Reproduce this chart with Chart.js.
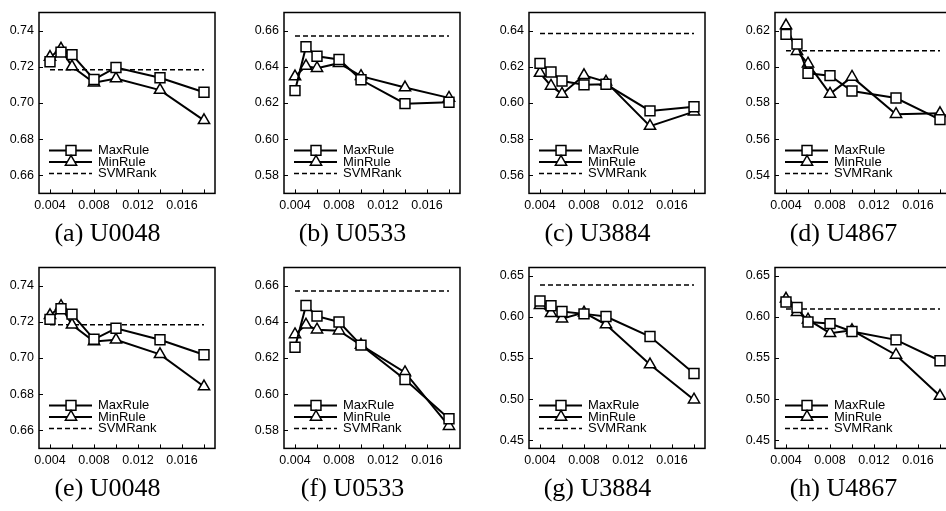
<!DOCTYPE html>
<html><head><meta charset="utf-8">
<script src="https://cdn.jsdelivr.net/npm/chart.js@4.4.0/dist/chart.umd.min.js"></script>
<style>
html,body{margin:0;padding:0;background:#fff;overflow:hidden;width:946px;height:511px;position:relative;}
canvas{position:absolute;}
</style></head><body>
<canvas id="ca" width="227" height="256" style="left:0px;top:0px"></canvas>
<canvas id="cb" width="227" height="256" style="left:245px;top:0px"></canvas>
<canvas id="cc" width="227" height="256" style="left:490px;top:0px"></canvas>
<canvas id="cd" width="227" height="256" style="left:736px;top:0px"></canvas>
<canvas id="ce" width="227" height="256" style="left:0px;top:255px"></canvas>
<canvas id="cf" width="227" height="256" style="left:245px;top:255px"></canvas>
<canvas id="cg" width="227" height="256" style="left:490px;top:255px"></canvas>
<canvas id="ch" width="227" height="256" style="left:736px;top:255px"></canvas>
<script>
// ---- data ----
const xValues = [0.004, 0.005, 0.006, 0.008, 0.010, 0.014, 0.018];
const xTickValues = [0.004, 0.006, 0.008, 0.010, 0.012, 0.014, 0.016, 0.018];
const xLabelValues = [0.004, 0.008, 0.012, 0.016];
const seriesNames = ['MaxRule', 'MinRule', 'SVMRank'];
const captions = ['(a) U0048', '(b) U0533', '(c) U3884', '(d) U4867', '(e) U0048', '(f) U0533', '(g) U3884', '(h) U4867'];

const maxRuleA = [0.7228, 0.7281, 0.7267, 0.7130, 0.7196, 0.7139, 0.7059];
const minRuleA = [0.7254, 0.7299, 0.7201, 0.7112, 0.7135, 0.7071, 0.6904];
const svmRankA = 0.7183;
const maxRuleB = [0.6268, 0.6511, 0.6458, 0.6440, 0.6328, 0.6196, 0.6204];
const minRuleB = [0.6346, 0.6404, 0.6392, 0.6420, 0.6348, 0.6285, 0.6228];
const svmRankB = 0.657;
const maxRuleC = [0.6219, 0.6171, 0.6121, 0.6100, 0.6103, 0.5956, 0.5979];
const minRuleC = [0.6165, 0.6094, 0.6050, 0.6153, 0.6117, 0.5872, 0.5952];
const svmRankC = 0.6384;
const maxRuleD = [0.6179, 0.6125, 0.5964, 0.5951, 0.5866, 0.5827, 0.5708];
const minRuleD = [0.6228, 0.6086, 0.6017, 0.5850, 0.5944, 0.5738, 0.5743];
const svmRankD = 0.6088;
const maxRuleE = [0.7213, 0.7272, 0.7242, 0.7103, 0.7164, 0.7101, 0.7018];
const minRuleE = [0.7236, 0.7286, 0.7183, 0.7091, 0.7100, 0.7020, 0.6842];
const svmRankE = 0.7183;
const maxRuleF = [0.6259, 0.6490, 0.6431, 0.6399, 0.6271, 0.6081, 0.5864];
const minRuleF = [0.6330, 0.6383, 0.6356, 0.6351, 0.6271, 0.6120, 0.5823];
const svmRankF = 0.657;
const maxRuleG = [0.6192, 0.6134, 0.6064, 0.6036, 0.6004, 0.5760, 0.5311];
const minRuleG = [0.6141, 0.6043, 0.5977, 0.6051, 0.5906, 0.5420, 0.4992];
const svmRankG = 0.6387;
const maxRuleH = [0.6180, 0.6114, 0.5938, 0.5918, 0.5821, 0.5720, 0.5466];
const minRuleH = [0.6219, 0.6055, 0.5965, 0.5801, 0.5836, 0.5536, 0.5037];
const svmRankH = 0.6094;

const yTicks066 = [0.66, 0.68, 0.70, 0.72, 0.74];
const yTicks058 = [0.58, 0.60, 0.62, 0.64, 0.66];
const yTicks056 = [0.56, 0.58, 0.60, 0.62, 0.64];
const yTicks054 = [0.54, 0.56, 0.58, 0.60, 0.62];
const yTicks045 = [0.45, 0.50, 0.55, 0.60, 0.65];

// ---- panels ----
const panels = [
  {id:'ca', cap:captions[0], max:maxRuleA, min:minRuleA, svm:svmRankA, yMin:0.65, yMax:0.75, yTicks:yTicks066},
  {id:'cb', cap:captions[1], max:maxRuleB, min:minRuleB, svm:svmRankB, yMin:0.57, yMax:0.67, yTicks:yTicks058},
  {id:'cc', cap:captions[2], max:maxRuleC, min:minRuleC, svm:svmRankC, yMin:0.55, yMax:0.65, yTicks:yTicks056},
  {id:'cd', cap:captions[3], max:maxRuleD, min:minRuleD, svm:svmRankD, yMin:0.53, yMax:0.63, yTicks:yTicks054},
  {id:'ce', cap:captions[4], max:maxRuleE, min:minRuleE, svm:svmRankE, yMin:0.65, yMax:0.75, yTicks:yTicks066},
  {id:'cf', cap:captions[5], max:maxRuleF, min:minRuleF, svm:svmRankF, yMin:0.57, yMax:0.67, yTicks:yTicks058},
  {id:'cg', cap:captions[6], max:maxRuleG, min:minRuleG, svm:svmRankG, yMin:0.44, yMax:0.66, yTicks:yTicks045},
  {id:'ch', cap:captions[7], max:maxRuleH, min:minRuleH, svm:svmRankH, yMin:0.44, yMax:0.66, yTicks:yTicks045}
];

const SANS = '"Liberation Sans", Arial, Helvetica, sans-serif';
const SERIF = '"Liberation Serif", "Times New Roman", serif';

function drawMarker(ctx, style, x, y) {
  ctx.beginPath();
  if (style === 'rect') {
    const s = 4.95;
    ctx.rect(x - s, y - s, 2 * s, 2 * s);
  } else if (style === 'triangle') {
    const r = 6.5;
    for (let k = 0; k < 3; k++) {
      const a = k * 2 * Math.PI / 3;
      const px = x + Math.sin(a) * r, py = y - Math.cos(a) * r;
      if (k === 0) ctx.moveTo(px, py); else ctx.lineTo(px, py);
    }
    ctx.closePath();
  }
  ctx.fillStyle = '#fff';
  ctx.fill();
  ctx.lineWidth = 1.5;
  ctx.strokeStyle = '#000';
  ctx.stroke();
}

const framePlugin = {
  id: 'frameTicksLegend',
  afterDraw(chart) {
    const {ctx, chartArea: a, scales} = chart;
    const xs = scales.x, ys = scales.y;
    ctx.save();
    ctx.strokeStyle = '#000';
    ctx.lineWidth = 1.5;
    ctx.strokeRect(a.left, a.top, a.right - a.left, a.bottom - a.top);
    ctx.lineWidth = 1;
    ctx.beginPath();
    xs.ticks.forEach(t => {
      const px = Math.round(xs.getPixelForValue(t.value)) + 0.5;
      ctx.moveTo(px, a.bottom); ctx.lineTo(px, a.bottom - 4);
    });
    ys.ticks.forEach(t => {
      const py = Math.round(ys.getPixelForValue(t.value)) + 0.5;
      ctx.moveTo(a.left, py); ctx.lineTo(a.left + 4, py);
    });
    ctx.stroke();
    // legend inside plot area, bottom-left
    const rowsY = [a.bottom - 43, a.bottom - 31.5, a.bottom - 20];
    chart.data.datasets.forEach((ds, i) => {
      const y = rowsY[i];
      ctx.save();
      ctx.strokeStyle = '#000';
      ctx.lineWidth = ds.borderWidth;
      ctx.setLineDash(ds.borderDash || []);
      ctx.beginPath();
      ctx.moveTo(a.left + 10, y); ctx.lineTo(a.left + 53, y);
      ctx.stroke();
      ctx.restore();
      if (ds.pointRadius > 0) drawMarker(ctx, ds.pointStyle, a.left + 32, y);
      ctx.fillStyle = '#000';
      ctx.font = '13px ' + SANS;
      ctx.textBaseline = 'middle';
      ctx.textAlign = 'left';
      ctx.fillText(ds.label, a.left + 59, y + 0.5);
    });
    ctx.restore();
  }
};

function makeChart(p) {
  const el = document.getElementById(p.id);
  new Chart(el, {
    type: 'line',
    data: {
      datasets: [
        {label: seriesNames[0], data: xValues.map((x, i) => ({x: x, y: p.max[i]})),
         borderColor: '#000', borderWidth: 2, pointStyle: 'rect', pointRadius: 7,
         pointBackgroundColor: '#fff', pointBorderColor: '#000', pointBorderWidth: 1.5, tension: 0, clip: false},
        {label: seriesNames[1], data: xValues.map((x, i) => ({x: x, y: p.min[i]})),
         borderColor: '#000', borderWidth: 2, pointStyle: 'triangle', pointRadius: 6.5,
         pointBackgroundColor: '#fff', pointBorderColor: '#000', pointBorderWidth: 1.5, tension: 0, clip: false},
        {label: seriesNames[2], data: [{x: xValues[0], y: p.svm}, {x: xValues[xValues.length - 1], y: p.svm}],
         borderColor: '#000', borderWidth: 1.5, borderDash: [5, 3], pointRadius: 0, tension: 0}
      ]
    },
    options: {
      responsive: false, animation: false, devicePixelRatio: 1,
      layout: {padding: {top: 5, right: 12, left: 0, bottom: 0}},
      plugins: {
        legend: {display: false},
        tooltip: {enabled: false},
        title: {display: true, position: 'bottom', text: p.cap, color: '#000',
                font: {family: SERIF, size: 26, weight: 'normal', lineHeight: 1.2},
                padding: {top: 7.4, bottom: 6}}
      },
      scales: {
        x: {type: 'linear', min: 0.003, max: 0.019,
            afterBuildTicks: s => { s.ticks = xTickValues.map(v => ({value: v})); },
            afterFit: s => { s.height = 18; },
            grid: {display: false, drawTicks: false}, border: {display: false},
            ticks: {autoSkip: false, maxRotation: 0, padding: 5, color: '#000',
                    font: {family: SANS, size: 12.5},
                    callback: v => xLabelValues.some(l => Math.abs(l - v) < 1e-9) ? v.toFixed(3) : ''}},
        y: {type: 'linear', min: p.yMin, max: p.yMax,
            afterBuildTicks: s => { s.ticks = p.yTicks.map(v => ({value: v})); },
            afterFit: s => { s.width = 39; },
            grid: {display: false, drawTicks: false}, border: {display: false},
            ticks: {padding: 5, color: '#000', font: {family: SANS, size: 12.5},
                    callback: v => v.toFixed(2)}}
      }
    },
    plugins: [framePlugin]
  });
}

panels.forEach(makeChart);
</script>
</body></html>
